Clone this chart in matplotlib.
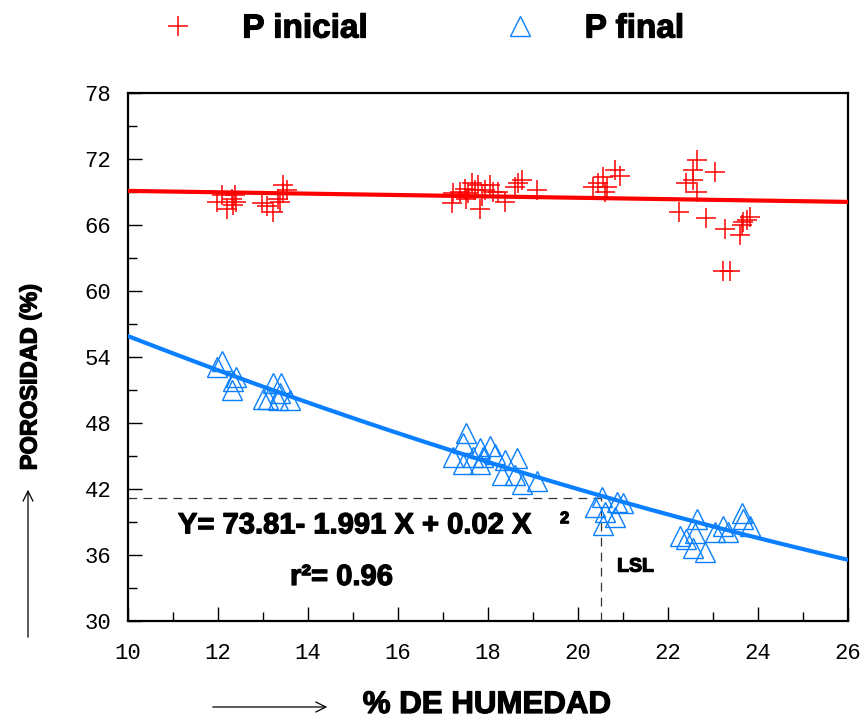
import numpy as np
import matplotlib.pyplot as plt
import matplotlib.patheffects as pe
from matplotlib.ticker import MultipleLocator

# P inicial (red crosses)
x_ini = [12.08, 11.97, 12.19, 12.30, 12.38, 12.34, 12.41, 12.97, 13.08, 13.23,
         13.38, 13.34, 13.45, 13.53, 13.45,
         17.19, 17.23, 17.38, 17.49, 17.56, 17.52, 17.64, 17.71, 17.78, 17.82,
         17.86, 17.93, 18.04, 18.12, 18.23, 18.38, 18.60, 18.67, 18.75, 19.08,
         20.34, 20.45, 20.56, 20.64, 20.82, 20.93, 20.60,
         22.64, 22.56, 23.04, 22.56, 22.41, 22.64, 22.25, 22.84, 23.27, 23.60,
         23.67, 23.75, 23.82, 23.64, 23.23, 23.38]
y_ini = [68.7, 68.1, 67.5, 68.4, 68.7, 67.8, 68.1, 68.0, 67.7, 67.2,
         68.1, 68.4, 68.9, 69.2, 69.6,
         68.0, 68.9, 69.0, 69.3, 68.9, 68.4, 69.8, 69.2, 69.6, 67.5,
         68.6, 69.2, 69.6, 69.0, 69.0, 68.1, 69.5, 69.8, 70.1, 69.2,
         69.5, 69.8, 70.4, 69.5, 71.0, 70.5, 69.0,
         71.9, 71.0, 70.8, 70.1, 69.8, 69.0, 67.2, 66.6, 65.6, 65.1,
         66.3, 66.5, 66.7, 66.0, 61.8, 61.8]

# P final (blue triangles)
x_fin = [12.08, 11.97, 12.41, 12.34, 12.30, 13.23, 13.41, 13.00, 13.38, 13.34,
         13.60, 13.12,
         17.52, 17.45, 17.23, 17.45, 17.67, 17.82, 18.04, 18.16, 17.82, 17.90,
         18.38, 18.64, 18.30, 18.60, 18.75, 19.08,
         20.53, 20.38, 20.60, 20.56, 20.82, 20.86, 21.00,
         22.27, 22.41, 22.64, 22.60, 22.56, 22.82, 23.04, 23.23, 23.34, 23.64,
         23.67, 23.82]
y_fin = [53.6, 53.1, 52.2, 51.8, 51.0, 51.6, 51.6, 50.2, 50.7, 50.1,
         50.1, 50.2,
         47.1, 46.2, 44.9, 44.3, 44.9, 45.7, 45.9, 45.2, 44.3, 44.9,
         44.6, 44.8, 43.3, 43.3, 42.5, 42.7,
         41.3, 40.4, 39.9, 38.7, 39.5, 40.8, 40.7,
         37.7, 37.5, 39.3, 38.0, 36.6, 36.3, 38.1, 38.6, 38.1, 39.8,
         39.3, 38.6]

# fitted lines
ini_fit_x = [10, 26]
ini_fit_y = [69.1, 68.1]
fin_coef = [73.81, -1.991, 0.02]   # Y = a + bX + cX^2
lsl_x, lsl_y = 20.5, 41.2

RED = '#ff0000'
BLUE = '#0a7fff'
HEAVY = [pe.withStroke(linewidth=0.9, foreground='black')]
BOLD = dict(fontweight='bold', family='Liberation Sans', path_effects=HEAVY)

fig = plt.figure(figsize=(8.64, 7.21), dpi=100)
ax = fig.add_axes([128 / 864, 100 / 721, 720 / 864, 528 / 721])

xf = np.linspace(10, 26, 200)
yf = fin_coef[0] + fin_coef[1] * xf + fin_coef[2] * xf ** 2
ax.plot(ini_fit_x, ini_fit_y, color=RED, lw=3, zorder=3)
ax.plot(xf, yf, color=BLUE, lw=3, zorder=3)

h1, = ax.plot(x_ini, y_ini, ls='none', marker='+', ms=14, mew=1.1,
              color=RED, zorder=4, label='P inicial')
h2, = ax.plot(x_fin, y_fin, ls='none', marker='^', ms=14, mew=1.0,
              mfc='none', mec=BLUE, zorder=4, label='P final')

# LSL guide lines
ax.plot([10, lsl_x], [lsl_y, lsl_y], color='#333333', lw=0.9,
        ls=(0, (7, 5)), zorder=2)
ax.plot([lsl_x, lsl_x], [30, lsl_y], color='#333333', lw=0.9,
        ls=(0, (7, 5)), zorder=2)

ax.text(11.11, 38.7, 'Y= 73.81- 1.991 X + 0.02 X', fontsize=21,
        va='center', ha='left', **BOLD)
ax.text(19.6, 39.3, '2', fontsize=12, va='center', ha='left', **BOLD)
ax.text(13.6, 34.0, 'r\u00b2= 0.96', fontsize=21, va='center', ha='left',
        **BOLD)
ax.text(20.87, 34.9, 'LSL', fontsize=14, va='center', ha='left', **BOLD)

ax.set_xlim(10, 26)
ax.set_ylim(30, 78)
ax.xaxis.set_major_locator(MultipleLocator(2))
ax.xaxis.set_minor_locator(MultipleLocator(1))
ax.yaxis.set_major_locator(MultipleLocator(6))
ax.yaxis.set_minor_locator(MultipleLocator(3))
ax.tick_params(which='both', direction='in', width=1.0, top=False, right=False)
ax.tick_params(which='major', length=10)
ax.tick_params(which='minor', length=6.5)
ax.tick_params(axis='x', which='major', pad=16)
ax.tick_params(axis='y', which='major', pad=12)
for lab in ax.get_xticklabels() + ax.get_yticklabels():
    lab.set_family('Liberation Mono')
    lab.set_fontsize(16)
for sp in ax.spines.values():
    sp.set_linewidth(1.6)

# axis titles and arrows
fig.text(30 / 864, 1 - 377 / 721, 'POROSIDAD (%)', rotation=90, fontsize=17,
         ha='center', va='center', **BOLD)
fig.text(487 / 864, 1 - 705 / 721, '% DE HUMEDAD', fontsize=22.5,
         ha='center', va='center', **BOLD)
fig.add_artist(plt.Annotation('', xy=(28 / 864, 1 - 487 / 721),
                              xytext=(28 / 864, 1 - 640 / 721),
                              xycoords='figure fraction',
                              arrowprops=dict(arrowstyle='->', lw=0.9,
                                              mutation_scale=18)))
fig.add_artist(plt.Annotation('', xy=(330 / 864, 1 - 707 / 721),
                              xytext=(210 / 864, 1 - 707 / 721),
                              xycoords='figure fraction',
                              arrowprops=dict(arrowstyle='->', lw=0.9,
                                              mutation_scale=18)))

leg = fig.legend(handles=[h1, h2], loc='center', ncol=2, frameon=False,
                 bbox_to_anchor=(423 / 864, 1 - 29 / 721),
                 prop=dict(family='Liberation Sans', weight='bold', size=24),
                 handlelength=1.0, handletextpad=1.43, columnspacing=4.06)
for t in leg.get_texts():
    t.set_path_effects(HEAVY)

fig.savefig('out.png', dpi=100)
